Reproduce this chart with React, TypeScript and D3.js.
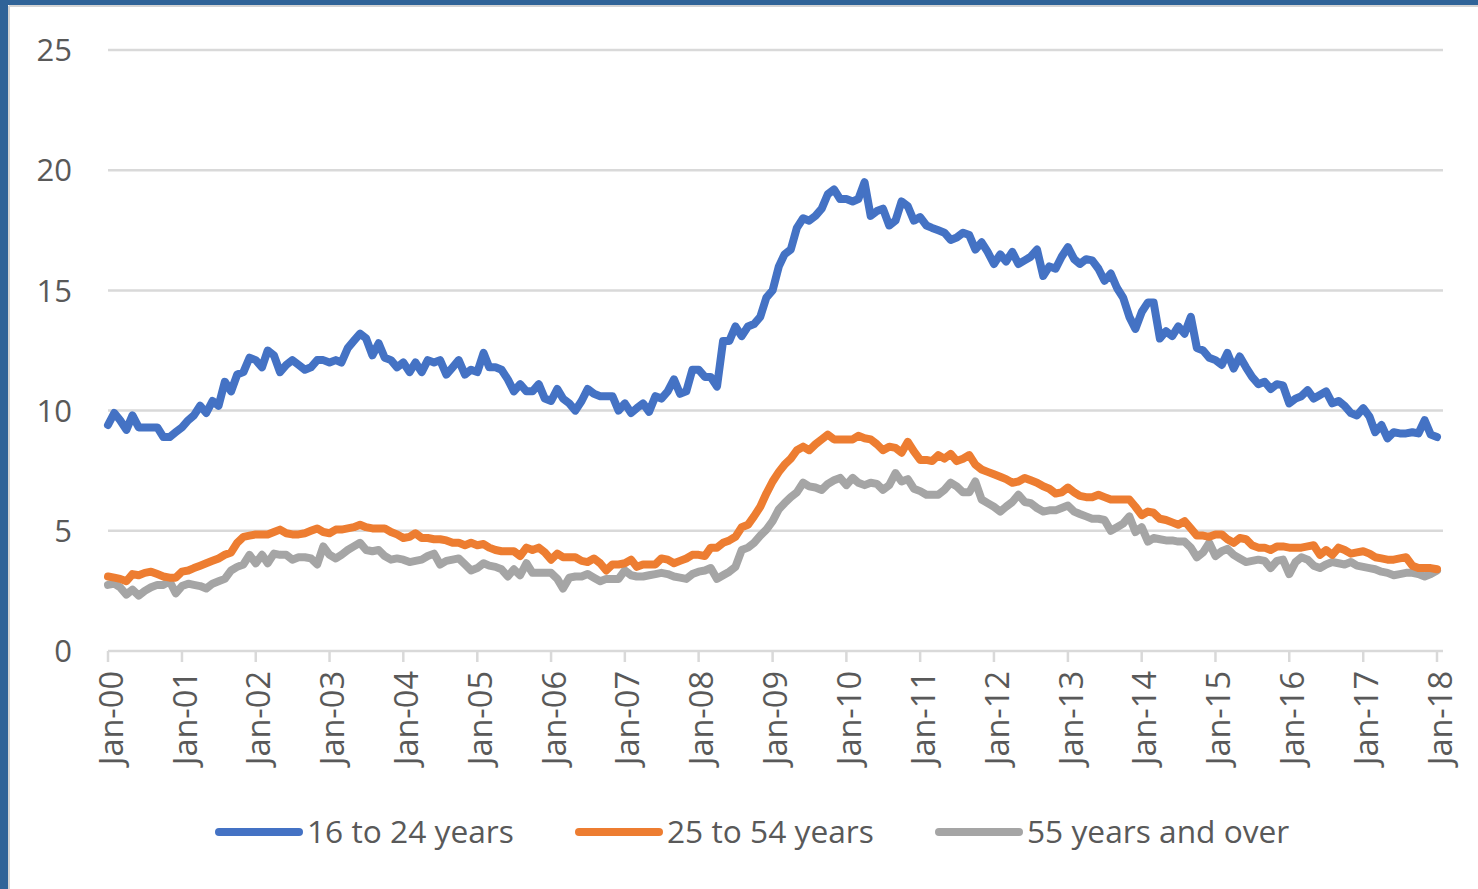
import React, { useEffect, useRef } from 'react';
import * as d3 from 'd3';

// unemployment rate by age, monthly Jan 2000 .. Jan 2018
const youth = [
  9.4, 9.9, 9.6, 9.2, 9.8, 9.3, 9.3, 9.3, 9.3, 8.9, 8.9, 9.1,
  9.3, 9.6, 9.8, 10.2, 9.9, 10.4, 10.2, 11.2, 10.8, 11.5, 11.6, 12.2,
  12.1, 11.8, 12.5, 12.3, 11.6, 11.9, 12.1, 11.9, 11.7, 11.8, 12.1, 12.1,
  12.0, 12.1, 12.0, 12.6, 12.9, 13.2, 13.0, 12.3, 12.8, 12.2, 12.1, 11.8,
  12.0, 11.6, 12.0, 11.6, 12.1, 12.0, 12.1, 11.5, 11.8, 12.1, 11.5, 11.7,
  11.6, 12.4, 11.8, 11.8, 11.7, 11.3, 10.8, 11.1, 10.8, 10.8, 11.1, 10.5,
  10.4, 10.9, 10.5, 10.3, 10.0, 10.4, 10.9, 10.7, 10.6, 10.6, 10.6, 10.0,
  10.3, 9.9, 10.1, 10.3, 9.95, 10.6, 10.5, 10.8, 11.3, 10.7, 10.8, 11.7,
  11.7, 11.4, 11.4, 11.0, 12.9, 12.9, 13.5, 13.1, 13.5, 13.6, 13.9, 14.7,
  15.0, 16.0, 16.5, 16.7, 17.6, 18.0, 17.9, 18.1, 18.4, 19.0, 19.2, 18.8,
  18.8, 18.7, 18.8, 19.5, 18.1, 18.3, 18.4, 17.7, 17.9, 18.7, 18.5, 17.9,
  18.05, 17.7, 17.6, 17.5, 17.4, 17.1, 17.2, 17.4, 17.3, 16.7, 17.0, 16.6,
  16.1, 16.5, 16.2, 16.6, 16.1, 16.25, 16.4, 16.7, 15.6, 16.0, 15.9, 16.4,
  16.8, 16.3, 16.1, 16.3, 16.25, 15.9, 15.4, 15.7, 15.1, 14.7, 13.9, 13.4,
  14.1, 14.5, 14.5, 13.0, 13.3, 13.1, 13.5, 13.2, 13.9, 12.6, 12.5, 12.2,
  12.1, 11.9, 12.4, 11.75, 12.25, 11.8, 11.4, 11.1, 11.2, 10.9, 11.1, 11.05,
  10.3, 10.5, 10.6, 10.85, 10.5, 10.65, 10.8, 10.3, 10.4, 10.2, 9.9, 9.8,
  10.1, 9.75, 9.1, 9.4, 8.85, 9.1, 9.05, 9.05, 9.1, 9.05, 9.6, 9.0,
  8.9
];

const prime = [
  3.1, 3.05, 3.0, 2.9, 3.2, 3.15, 3.25, 3.3, 3.2, 3.1, 3.05, 3.05,
  3.3, 3.35, 3.45, 3.55, 3.65, 3.75, 3.85, 4.0, 4.1, 4.5, 4.75, 4.8,
  4.85, 4.85, 4.85, 4.95, 5.05, 4.9, 4.85, 4.85, 4.9, 5.0, 5.1, 4.95,
  4.9, 5.05, 5.05, 5.1, 5.15, 5.25, 5.15, 5.1, 5.1, 5.1, 4.95, 4.85,
  4.7, 4.75, 4.9, 4.7, 4.7, 4.65, 4.65, 4.6, 4.5, 4.5, 4.4, 4.5,
  4.4, 4.45, 4.3, 4.2, 4.15, 4.15, 4.15, 3.95, 4.3, 4.2, 4.3, 4.1,
  3.8, 4.05, 3.9, 3.9, 3.9, 3.75, 3.7, 3.85, 3.65, 3.35, 3.6, 3.6,
  3.65, 3.8, 3.5, 3.6, 3.6, 3.6, 3.85, 3.8, 3.65, 3.75, 3.85, 4.0,
  4.0, 3.95, 4.3, 4.3, 4.5, 4.6, 4.75, 5.15, 5.25, 5.6, 6.0, 6.55,
  7.05, 7.45, 7.75, 8.0, 8.35, 8.5, 8.35, 8.6, 8.8, 9.0, 8.8, 8.8,
  8.8, 8.8, 8.95, 8.85, 8.8, 8.6, 8.35, 8.5, 8.45, 8.25, 8.7, 8.3,
  7.95, 7.95, 7.9, 8.15, 8.0, 8.2, 7.9, 8.0, 8.15, 7.75, 7.55, 7.45,
  7.35, 7.25, 7.15, 7.0, 7.05, 7.2, 7.1, 7.0, 6.85, 6.75, 6.55, 6.6,
  6.8, 6.6, 6.45, 6.4, 6.4, 6.5, 6.4, 6.3, 6.3, 6.3, 6.3, 6.0,
  5.65, 5.8, 5.75, 5.5, 5.45, 5.35, 5.25, 5.4, 5.1, 4.8, 4.8, 4.75,
  4.85, 4.85, 4.65, 4.5, 4.7, 4.65, 4.4, 4.3, 4.3, 4.2, 4.35, 4.35,
  4.3, 4.3, 4.3, 4.35, 4.4, 4.0, 4.2, 4.0, 4.3, 4.2, 4.05, 4.1,
  4.15, 4.05, 3.9, 3.85, 3.8, 3.8, 3.85, 3.9, 3.55, 3.45, 3.45, 3.45,
  3.4
];

const older = [
  2.75, 2.8, 2.65, 2.35, 2.55, 2.3, 2.5, 2.65, 2.75, 2.75, 2.9, 2.4,
  2.7, 2.8, 2.75, 2.7, 2.6, 2.8, 2.9, 3.0, 3.35, 3.5, 3.6, 4.0,
  3.65, 4.0, 3.65, 4.05, 4.0, 4.0, 3.8, 3.9, 3.9, 3.85, 3.6, 4.35,
  4.0, 3.85, 4.0, 4.2, 4.35, 4.5, 4.2, 4.15, 4.2, 3.95, 3.8, 3.85,
  3.8, 3.7, 3.75, 3.8, 3.95, 4.05, 3.6, 3.75, 3.8, 3.85, 3.6, 3.35,
  3.45, 3.65, 3.55, 3.5, 3.4, 3.1, 3.4, 3.15, 3.65, 3.25, 3.25, 3.25,
  3.25, 3.0, 2.6, 3.05, 3.1, 3.1, 3.2, 3.05, 2.9, 3.0, 3.0, 3.0,
  3.35, 3.15, 3.1, 3.1, 3.15, 3.2, 3.25, 3.2, 3.1, 3.05, 3.0, 3.2,
  3.3, 3.35, 3.45, 3.0, 3.15, 3.3, 3.5, 4.2, 4.3, 4.5, 4.8, 5.05,
  5.4, 5.9, 6.15, 6.4, 6.6, 7.0, 6.85, 6.8, 6.7, 6.95, 7.1, 7.2,
  6.9, 7.2, 7.0, 6.9, 7.0, 6.95, 6.7, 6.9, 7.4, 7.05, 7.15, 6.75,
  6.65, 6.5, 6.5, 6.5, 6.7, 7.0, 6.85, 6.6, 6.6, 7.05, 6.3, 6.15,
  6.0, 5.8, 6.0, 6.2, 6.5, 6.2, 6.15, 5.95, 5.8, 5.85, 5.85, 5.95,
  6.05, 5.8, 5.7, 5.6, 5.5, 5.5, 5.45, 5.0, 5.15, 5.3, 5.6, 4.95,
  5.15, 4.55, 4.7, 4.65, 4.6, 4.6, 4.55, 4.55, 4.3, 3.9, 4.1, 4.5,
  3.95, 4.15, 4.25, 4.0, 3.85, 3.7, 3.75, 3.8, 3.75, 3.45, 3.75, 3.8,
  3.2, 3.7, 3.9, 3.8, 3.55, 3.45, 3.6, 3.7, 3.65, 3.6, 3.7, 3.55,
  3.5, 3.45, 3.4, 3.3, 3.25, 3.15, 3.2, 3.25, 3.25, 3.2, 3.1, 3.2,
  3.35
];

const seriesNames = ['16 to 24 years', '25 to 54 years', '55 years and over'];
const seriesColors = ['#4472C4', '#ED7D31', '#A5A5A5'];
const yTicks = [0, 5, 10, 15, 20, 25];
const xTickYears = d3.range(2000, 2019);

export default function App() {
  const svgRef = useRef(null);

  useEffect(() => {
    const width = 1478;
    const height = 889;
    const margin = { top: 50, right: 35, bottom: 238, left: 108 };
    const font = '"Open Sans", sans-serif';
    const textColor = '#595959';

    const svg = d3.select(svgRef.current);
    svg.selectAll('*').remove();
    svg.attr('width', width).attr('height', height);

    // frame
    svg.append('rect').attr('width', width).attr('height', height).attr('fill', '#fff');
    svg.append('rect').attr('x', 0).attr('y', 0).attr('width', width).attr('height', 5).attr('fill', '#2F6398');
    svg.append('rect').attr('x', 0).attr('y', 0).attr('width', 8).attr('height', height).attr('fill', '#2F6398');
    svg.append('line').attr('x1', 9).attr('x2', width).attr('y1', 6).attr('y2', 6)
      .attr('stroke', '#d4d4d4').attr('stroke-width', 2);
    svg.append('line').attr('x1', 9).attr('x2', 9).attr('y1', 6).attr('y2', height)
      .attr('stroke', '#d4d4d4').attr('stroke-width', 2);

    const start = new Date(2000, 0, 1);
    const end = new Date(2018, 0, 1);
    const x = d3.scaleTime().domain([start, end]).range([margin.left, 1437]);
    const y = d3.scaleLinear().domain([0, 25]).range([height - margin.bottom, margin.top]);
    const gridRight = width - margin.right;

    // gridlines
    svg.append('g').selectAll('line')
      .data(yTicks)
      .join('line')
      .attr('x1', margin.left)
      .attr('x2', gridRight)
      .attr('y1', d => y(d))
      .attr('y2', d => y(d))
      .attr('stroke', '#d9d9d9')
      .attr('stroke-width', 2.5);

    // y labels
    svg.append('g').selectAll('text')
      .data(yTicks)
      .join('text')
      .attr('x', 72)
      .attr('y', d => y(d))
      .attr('dy', '0.36em')
      .attr('text-anchor', 'end')
      .attr('font-family', font)
      .attr('font-size', 31)
      .attr('fill', textColor)
      .text(d => d);

    // x ticks
    const tickDates = xTickYears.map(yr => new Date(yr, 0, 1));
    svg.append('g').selectAll('line')
      .data(tickDates)
      .join('line')
      .attr('x1', d => x(d))
      .attr('x2', d => x(d))
      .attr('y1', y(0))
      .attr('y2', y(0) + 11)
      .attr('stroke', '#d9d9d9')
      .attr('stroke-width', 2.5);

    const fmt = d3.timeFormat('%b-%y');
    svg.append('g').selectAll('text')
      .data(tickDates)
      .join('text')
      .attr('transform', d => `translate(${x(d)},${y(0) + 20}) rotate(-90)`)
      .attr('dy', '0.45em')
      .attr('text-anchor', 'end')
      .attr('font-family', font)
      .attr('font-size', 32.5)
      .attr('fill', textColor)
      .text(d => fmt(d));

    // series lines
    const line = d3.line()
      .x((d, i) => x(d3.timeMonth.offset(start, i)))
      .y(d => y(d));

    [youth, prime, older].slice().reverse().forEach((vals, k) => {
      const idx = 2 - k;
      svg.append('path')
        .datum(vals)
        .attr('d', line)
        .attr('fill', 'none')
        .attr('stroke', seriesColors[idx])
        .attr('stroke-width', 8)
        .attr('stroke-linejoin', 'round')
        .attr('stroke-linecap', 'round');
    });

    // legend
    const legendX = [219, 579, 939];
    const legendY = 832;
    const legend = svg.append('g').selectAll('g')
      .data(seriesNames)
      .join('g')
      .attr('transform', (d, i) => `translate(${legendX[i]},${legendY})`);
    legend.append('line')
      .attr('x1', 0).attr('x2', 80)
      .attr('stroke', (d, i) => seriesColors[i])
      .attr('stroke-width', 8)
      .attr('stroke-linecap', 'round');
    legend.append('text')
      .attr('x', 88)
      .attr('dy', '0.36em')
      .attr('font-family', font)
      .attr('font-size', 31.7)
      .attr('fill', textColor)
      .text(d => d);
  }, []);

  return <svg ref={svgRef} style={{ position: 'absolute', left: 0, top: 0, display: 'block' }}></svg>;
}
